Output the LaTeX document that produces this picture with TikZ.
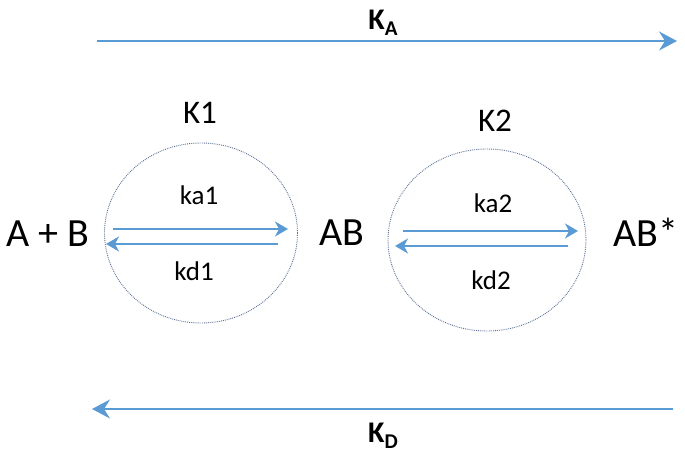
\documentclass[tikz,border=0pt]{standalone}
\usepackage{fontspec}
\setmainfont{Carlito}
\newfontfamily\kbold{Carlito}[UprightFont=* Bold]
\usetikzlibrary{arrows.meta,shapes.geometric}
\definecolor{arrowblue}{RGB}{91,155,213}
\definecolor{ringgray}{RGB}{95,115,150}
\newcommand{\overalltext}[2]{\kbold\fontsize{30}{32}\selectfont #1\raisebox{-6pt}{\kbold\fontsize{21}{21}\selectfont #2}}
\tikzset{
  x=1pt, y=-1pt,
  bigarrow/.style={draw=arrowblue, line width=1.8pt, -{Stealth[length=18pt, width=19pt, inset=6pt]}},
  smallarrow/.style={draw=arrowblue, line width=1.6pt, -{Stealth[length=13pt, width=15pt, inset=4pt]}},
  ring/.style={draw=ringgray, line width=0.9pt, densely dotted},
  species/.style={anchor=base, inner sep=0pt, font=\fontsize{40}{42}\selectfont},
  eqk/.style={anchor=base, inner sep=0pt, font=\fontsize{33}{36}\selectfont},
  rate/.style={anchor=base, inner sep=0pt, font=\fontsize{27}{30}\selectfont},
  overall/.style={anchor=base, inner sep=0pt}
}
\begin{document}
\begin{tikzpicture}
\useasboundingbox (0,0) rectangle (685,462);
% species
\node[species] (AplusB) at (48,247) {A + B};
\node[species] (AB) at (342,246) {AB};
\node[species] (ABs) at (646,247) {AB*};
% equilibrium constants
\node[eqk] (K1) at (200,124) {K1};
\node[eqk] (K2) at (495,132) {K2};
% rings
\node[ring, ellipse, minimum width=193pt, minimum height=180pt, inner sep=0pt] (ring1) at (201,233) {};
\node[ring, ellipse, minimum width=198pt, minimum height=182pt, inner sep=0pt] (ring2) at (487,240) {};
% rate labels
\node[rate] (ka1) at (199,205) {ka1};
\node[rate] (kd1) at (194,280) {kd1};
\node[rate] (ka2) at (493,213) {ka2};
\node[rate] (kd2) at (491,290) {kd2};
% overall labels
\node[overall] (KA) at (383,30) {\overalltext{K}{A}};
\node[overall] (KD) at (383,442) {\overalltext{K}{D}};
% arrow endpoints
\coordinate (a1s) at (113,229);
\coordinate (a1e) at (288,229);
\coordinate (d1s) at (278,244);
\coordinate (d1e) at (106,244);
\coordinate (a2s) at (403,231);
\coordinate (a2e) at (578,231);
\coordinate (d2s) at (568,246);
\coordinate (d2e) at (395,246);
\coordinate (KAs) at (97,41);
\coordinate (KAe) at (677,41);
\coordinate (KDs) at (673,409);
\coordinate (KDe) at (92,409);
% arrows
\draw[smallarrow] (a1s) -- (a1e);
\draw[smallarrow] (d1s) -- (d1e);
\draw[smallarrow] (a2s) -- (a2e);
\draw[smallarrow] (d2s) -- (d2e);
\draw[bigarrow] (KAs) -- (KAe);
\draw[bigarrow] (KDs) -- (KDe);
\end{tikzpicture}
\end{document}
